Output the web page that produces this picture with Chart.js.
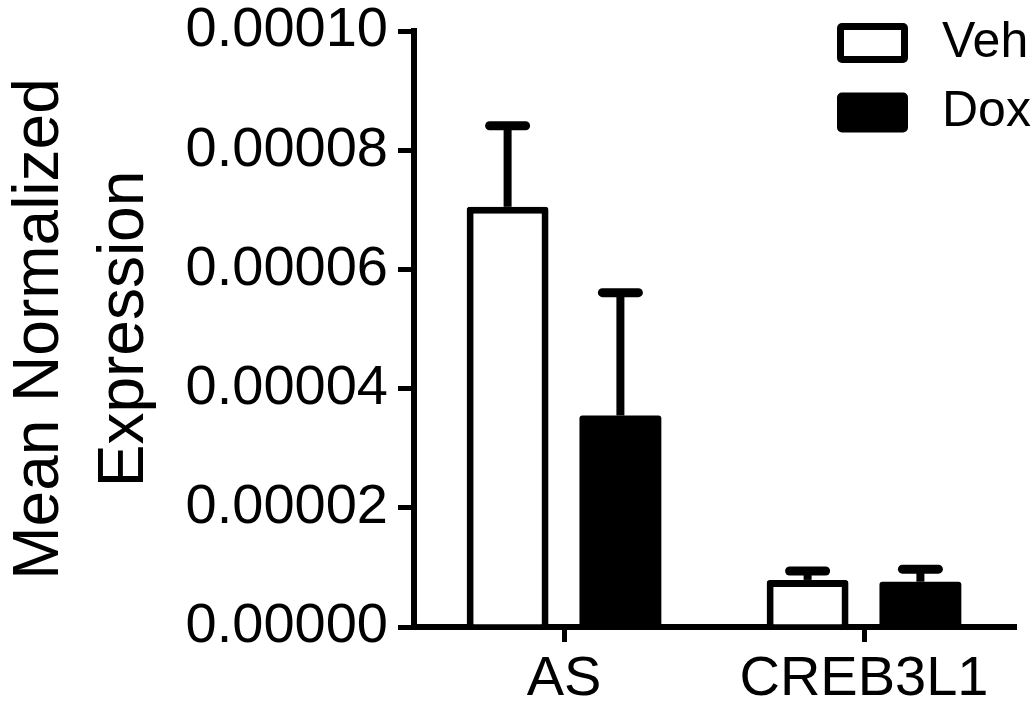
<!DOCTYPE html>
<html>
<head>
<meta charset="utf-8">
<script src="https://cdn.jsdelivr.net/npm/chart.js@4.4.1/dist/chart.umd.min.js"></script>
<style>
  html, body { margin: 0; padding: 0; background: #fff; overflow: hidden; }
  #wrap { width: 1034px; height: 704px; position: relative; }
</style>
</head>
<body>
<div id="wrap"><canvas id="myChart"></canvas></div>
<script>
const categories = ['AS', 'CREB3L1'];
const seriesNames = ['Veh', 'Dox'];
const vehMean = [0.0000705, 0.0000079];
const vehErr = [0.0000136, 0.0000015];
const doxMean = [0.0000355, 0.0000076];
const doxErr = [0.0000206, 0.0000021];
const yTickLabels = ['0.00000', '0.00002', '0.00004', '0.00006', '0.00008', '0.00010'];

const FONT = 'Liberation Sans, Arial, sans-serif';

// upward-only error bars with a rounded cap
const errorBars = {
    id: 'errorBars',
    afterDatasetsDraw(chart) {
        const ctx = chart.ctx;
        const yScale = chart.scales.y;
        chart.data.datasets.forEach((ds, i) => {
            const meta = chart.getDatasetMeta(i);
            meta.data.forEach((bar, j) => {
                const yTop = yScale.getPixelForValue(ds.data[j] + ds.errors[j]);
                ctx.save();
                ctx.strokeStyle = '#000';
                ctx.lineCap = 'butt';
                ctx.lineWidth = 8;
                ctx.beginPath();
                ctx.moveTo(bar.x, bar.y);
                ctx.lineTo(bar.x, yTop);
                ctx.stroke();
                ctx.lineCap = 'round';
                ctx.lineWidth = 9;
                ctx.beginPath();
                ctx.moveTo(bar.x - 18, yTop);
                ctx.lineTo(bar.x + 18, yTop);
                ctx.stroke();
                ctx.restore();
            });
        });
    }
};

// legend in the top right corner, over the plot
const boxLegend = {
    id: 'boxLegend',
    afterDraw(chart) {
        const ctx = chart.ctx;
        const rows = [43, 112.5];
        chart.data.datasets.forEach((ds, i) => {
            const cy = rows[i];
            ctx.save();
            ctx.fillStyle = '#000';
            ctx.beginPath();
            ctx.roundRect(837, cy - 20, 71, 40, 5);
            ctx.fill();
            ctx.fillStyle = ds.backgroundColor;
            ctx.beginPath();
            ctx.rect(844, cy - 13, 57, 26);
            ctx.fill();
            ctx.fillStyle = '#000';
            ctx.font = '50px ' + FONT;
            ctx.textBaseline = 'middle';
            ctx.textAlign = 'left';
            ctx.fillText(ds.label, 942, cy);
            ctx.restore();
        });
    }
};

const ctx = document.getElementById('myChart');

new Chart(ctx, {
    type: 'bar',
    data: {
        labels: categories,
        datasets: [{
            label: seriesNames[0],
            data: vehMean,
            errors: vehErr,
            backgroundColor: '#ffffff',
            borderColor: '#000000',
            borderWidth: 7,
            borderRadius: 3,
            borderSkipped: 'start'
        }, {
            label: seriesNames[1],
            data: doxMean,
            errors: doxErr,
            backgroundColor: '#000000',
            borderColor: '#000000',
            borderWidth: 0,
            borderRadius: 3,
            borderSkipped: 'start'
        }]
    },
    options: {
        responsive: true,
        maintainAspectRatio: false,
        animation: false,
        categoryPercentage: 0.752,
        barPercentage: 0.726,
        layout: { padding: { top: 31, right: 20, bottom: 0, left: 0 } },
        plugins: {
            legend: { display: false },
            tooltip: { enabled: false }
        },
        scales: {
            x: {
                afterFit: s => { s.height = 77; },
                grid: {
                    offset: false,
                    drawOnChartArea: false,
                    tickLength: 15,
                    lineWidth: 5,
                    color: '#000'
                },
                border: { display: true, width: 6, color: '#000' },
                ticks: {
                    color: '#000',
                    padding: 10,
                    font: { family: FONT, size: 56, lineHeight: 1 }
                }
            },
            y: {
                min: 0,
                max: 0.0001,
                afterFit: s => { s.width = 414; },
                grid: {
                    drawOnChartArea: false,
                    tickLength: 16,
                    lineWidth: 5,
                    color: '#000'
                },
                border: { display: true, width: 6, color: '#000' },
                ticks: {
                    stepSize: 0.00002,
                    color: '#000',
                    padding: 10,
                    font: { family: FONT, size: 56, lineHeight: 0.7 },
                    callback: (v, i) => yTickLabels[i]
                },
                title: {
                    display: true,
                    text: ['Mean Normalized', 'Expression'],
                    color: '#000',
                    padding: { top: -2, bottom: 0 },
                    font: { family: FONT, size: 64, lineHeight: 1.33 }
                }
            }
        }
    },
    plugins: [errorBars, boxLegend]
});
</script>
</body>
</html>
